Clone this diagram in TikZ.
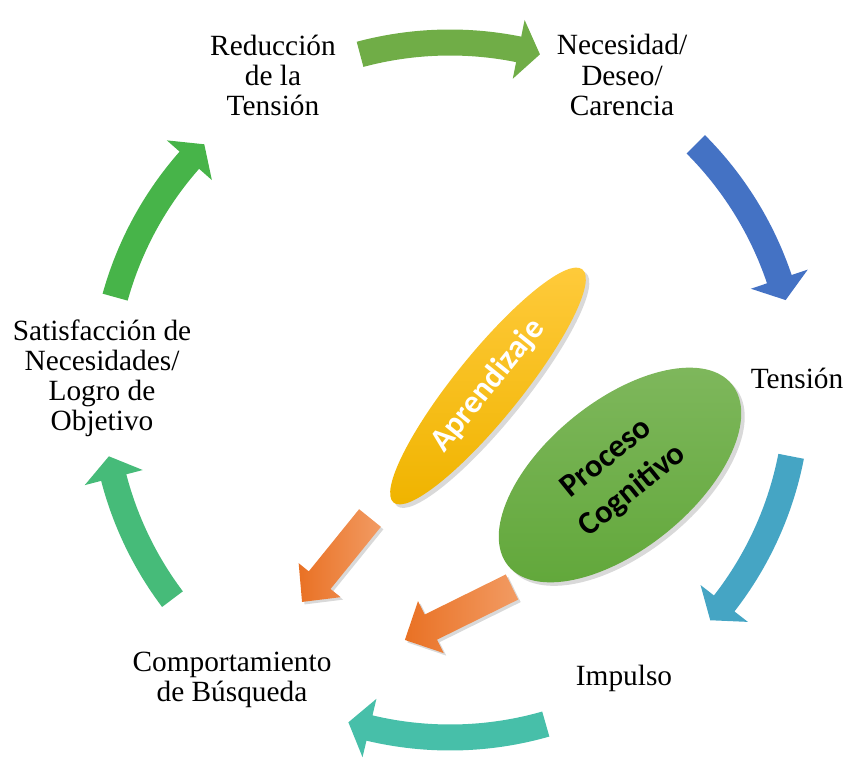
\documentclass[tikz,border=0pt]{standalone}
\usepackage{fontspec}
\setmainfont{Liberation Serif}
\newfontfamily\calibri{Carlito}
\usetikzlibrary{arrows.meta, positioning, shapes.geometric, shadows}
\definecolor{cyclegreen}{HTML}{70AD47}
\definecolor{cycleblue}{HTML}{4472C4}
\definecolor{cycleteal}{HTML}{45A5C4}
\definecolor{cyclemint}{HTML}{47BFA9}
\definecolor{cycleseagreen}{HTML}{46BB79}
\definecolor{cyclegrass}{HTML}{47B449}
\definecolor{learnlight}{HTML}{FFCB3D}
\definecolor{learndark}{HTML}{F0B400}
\definecolor{coglight}{HTML}{80B85E}
\definecolor{cogdark}{HTML}{62A83B}
\definecolor{feedlight}{HTML}{F29B63}
\definecolor{feeddark}{HTML}{E97124}

\begin{document}
\begin{tikzpicture}[
  every node/.style={font=\fontsize{16.7}{17.1}\selectfont},
  steplabel/.style={align=center, inner sep=0pt},
  bubble/.style={ellipse, inner sep=0pt, align=center, top color=#1light, bottom color=#1dark, drop shadow={opacity=0.3, shadow xshift=0.07cm, shadow yshift=-0.07cm}, font=\calibri\bfseries\fontsize{18.5}{24}\selectfont},
]
\useasboundingbox (-9.0,-7.46) rectangle (7.94,7.8);
\coordinate (c) at (0,0);

% stages of the cycle
\node[steplabel] (reduce) at (-3.54,6.3) {Reducción\\de la\\Tensión};
\node[steplabel] (need) at (3.44,6.3) {Necesidad/\\Deseo/\\Carencia};
\node[steplabel] (tension) at (6.94,0.24) {Tensión};
\node[steplabel] (impulse) at (3.48,-5.76) {Impulso};
\node[steplabel] (search) at (-4.36,-5.8) {Comportamiento\\de Búsqueda};
\node[steplabel] (goal) at (-6.96,0.24) {Satisfacción de\\Necesidades/\\Logro de\\Objetivo};

% curved block arrows round the circle
\foreach \col/\a/\b in {cyclegreen/105/75, cycleblue/45/15, cycleteal/-11/-41.5, cyclemint/-74/-107, cycleseagreen/217/191, cyclegrass/164.5/135}{
  \pgfmathsetmacro{\h}{\b+3.6}
  \fill[\col] (\a:7.21) arc[start angle=\a, end angle=\h, radius=7.21] -- (\h:7.55) -- (\b:6.95) -- (\h:6.35) -- (\h:6.69) arc[start angle=\h, end angle=\a, radius=6.69] -- cycle;
}

\node[bubble=learn, minimum width=6cm, minimum height=1.32cm, rotate=51, text=white] (learn) at (0.76,0.08) {Aprendizaje};
\node[bubble=cog, minimum width=5.76cm, minimum height=2.96cm, rotate=39] (cog) at (3.4,-1.7) {Proceso\\Cognitivo};

% influence arrows
\coordinate (learntail) at (-1.6,-2.56);
\coordinate (cogtail) at (1.24,-3.94);
\begin{scope}[shift={(learntail)}, rotate=231]
  \path[left color=feeddark, right color=feedlight, drop shadow={opacity=0.3, shadow xshift=0.05cm, shadow yshift=-0.05cm}] (0,0.28) -- (1.6,0.28) -- (1.6,0.54) -- (2.16,0) -- (1.6,-0.54) -- (1.6,-0.28) -- (0,-0.28) -- cycle;
\end{scope}
\begin{scope}[shift={(cogtail)}, rotate=206.3]
  \path[left color=feeddark, right color=feedlight, drop shadow={opacity=0.3, shadow xshift=0.05cm, shadow yshift=-0.05cm}] (0,0.28) -- (1.81,0.28) -- (1.81,0.58) -- (2.39,0) -- (1.81,-0.58) -- (1.81,-0.28) -- (0,-0.28) -- cycle;
\end{scope}
\end{tikzpicture}
\end{document}
